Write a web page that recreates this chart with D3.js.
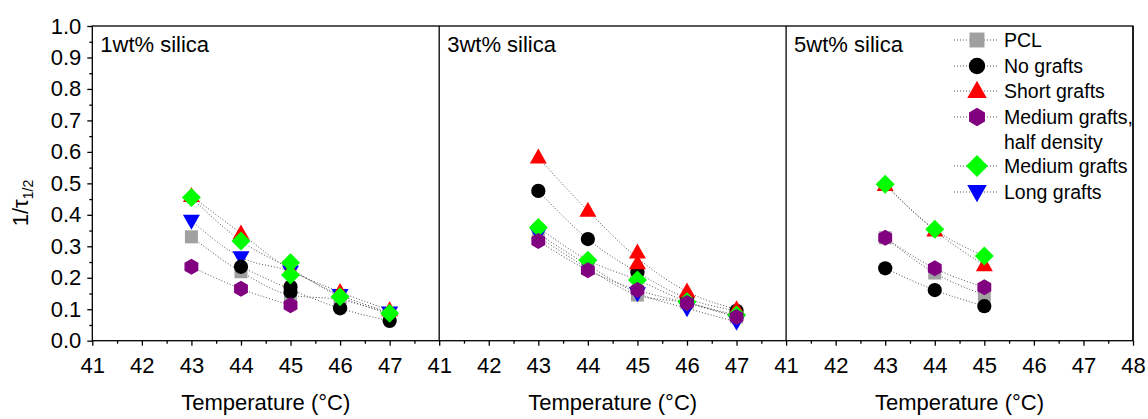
<!DOCTYPE html>
<meta charset="utf-8">
<script src="https://d3js.org/d3.v7.min.js"></script>
<style>
  body { margin: 0; background: #fff; }
  text { font-family: "Liberation Sans", Arial, sans-serif; fill: #000; }
</style>
<div id="chart"></div>
<script>

// ---- data ----
var panelNames = ["1wt% silica", "3wt% silica", "5wt% silica"];
var seriesNames = ["PCL", "No grafts", "Short grafts", "Medium grafts,", "Medium grafts", "Long grafts"];
var xTicks = [41, 42, 43, 44, 45, 46, 47, 48];
var yTicks = [0, 0.1, 0.2, 0.3, 0.4, 0.5, 0.6, 0.7, 0.8, 0.9, 1.0];

// 1 wt% silica
var pcl1    = [[43,0.33],[44,0.219],[45,0.145],[46,0.13],[47,0.085]];
var none1   = [[44,0.235],[45,0.171],[45,0.155],[46,0.103],[47,0.063]];
var short1  = [[43,0.46],[44,0.341],[45,0.225],[46,0.155],[47,0.097]];
var medHalf1= [[43,0.235],[44,0.165],[45,0.113]];
var med1    = [[43,0.455],[44,0.317],[45,0.248],[45,0.209],[46,0.14],[47,0.087]];
var long1   = [[43,0.381],[44,0.265],[45,0.22],[46,0.145],[47,0.09]];

// 3 wt% silica
var pcl3    = [[43,0.33],[44,0.23],[45,0.145],[46,0.12],[47,0.075]];
var none3   = [[43,0.476],[44,0.323],[45,0.217],[46,0.135],[47,0.095]];
var short3  = [[43,0.582],[44,0.413],[45,0.28],[45,0.246],[46,0.156],[47,0.1]];
var medHalf3= [[43,0.317],[44,0.224],[45,0.161],[46,0.12],[47,0.075]];
var med3    = [[43,0.36],[44,0.256],[45,0.193],[46,0.124],[47,0.082]];
var long3   = [[43,0.34],[44,0.24],[45,0.151],[46,0.103],[47,0.06]];

// 5 wt% silica
var pcl5    = [[43,0.327],[44,0.215],[45,0.145]];
var none5   = [[43,0.23],[44,0.161],[45,0.11]];
var short5  = [[43,0.495],[44,0.35],[45,0.24]];
var medHalf5= [[43,0.327],[44,0.23],[45,0.17]];
var med5    = [[43,0.497],[44,0.354],[45,0.269]];
var long5   = [];

var panelData = [
  [pcl1, none1, short1, medHalf1, med1, long1],
  [pcl3, none3, short3, medHalf3, med3, long3],
  [pcl5, none5, short5, medHalf5, med5, long5]
];

(function() {

// ---- styling ----
var colors = ["#a0a0a0", "#000000", "#ff0000", "#800080", "#00ff00", "#0000ff"];
var drawOrder = [0, 5, 1, 2, 4, 3];

var W = 1148, H = 419;
var mLeft = 92.3, mRight = 1133, mTop = 26, mBottom = 340.7;
var panelW = (mRight - mLeft) / 3;

var svg = d3.select("#chart").append("svg")
  .attr("width", W).attr("height", H);

var y = d3.scaleLinear().domain([0, 1]).range([mBottom, mTop]);

// marker shapes
function hexPath(r) {
  var p = d3.path();
  for (var i = 0; i < 6; i++) {
    var a = Math.PI / 6 + i * Math.PI / 3;
    var px = r * Math.cos(a), py = r * Math.sin(a);
    if (i === 0) p.moveTo(px, py); else p.lineTo(px, py);
  }
  p.closePath();
  return p.toString();
}
function markerPath(k, s) {
  s = s || 1;
  if (k === 0) return "M" + (-6.5*s) + "," + (-6.5*s) + "h" + (13*s) + "v" + (13*s) + "h" + (-13*s) + "Z";
  if (k === 1) return d3.symbol(d3.symbolCircle, 160 * s * s)();
  if (k === 2) return "M0," + (-9*s) + "L" + (8.5*s) + "," + (6*s) + "L" + (-8.5*s) + "," + (6*s) + "Z";
  if (k === 3) return hexPath(8 * s);
  if (k === 4) return "M0," + (-9.5*s) + "L" + (9.5*s) + ",0L0," + (9.5*s) + "L" + (-9.5*s) + ",0Z";
  return "M0," + (9*s) + "L" + (8.5*s) + "," + (-6*s) + "L" + (-8.5*s) + "," + (-6*s) + "Z";
}

// mean value per temperature, for the dotted guide lines
function lineData(pts) {
  var m = d3.rollups(pts, function(v) { return d3.mean(v, function(d) { return d[1]; }); }, function(d) { return d[0]; });
  return m.sort(function(a, b) { return a[0] - b[0]; });
}

panelData.forEach(function(series, p) {
  var x = d3.scaleLinear().domain([41, 48]).range([mLeft + p * panelW, mLeft + (p + 1) * panelW]);
  var g = svg.append("g");
  var labelTicks = p < 2 ? xTicks.slice(0, 7) : xTicks;

  // x axis
  g.append("g")
    .attr("transform", "translate(0," + mBottom + ")")
    .call(d3.axisBottom(x).tickValues(labelTicks).tickSize(5).tickFormat(d3.format("d")))
    .call(function(a) {
      a.select(".domain").remove();
      a.selectAll("text").style("font-size", "22px").attr("y", 32).attr("dy", null);
      a.selectAll("line").attr("stroke-width", 1.3);
    });
  g.append("g")
    .attr("transform", "translate(0," + mBottom + ")")
    .call(d3.axisBottom(x).tickValues(d3.range(41.5, 48, 1)).tickSize(3).tickFormat(""))
    .call(function(a) {
      a.select(".domain").remove();
      a.selectAll("line").attr("stroke-width", 1.3);
    });

  // dotted guide lines
  var line = d3.line().curve(d3.curveMonotoneX)
    .x(function(d) { return x(d[0]); })
    .y(function(d) { return y(d[1]); });
  series.forEach(function(pts) {
    if (pts.length < 2) return;
    g.append("path")
      .attr("d", line(lineData(pts)))
      .attr("fill", "none")
      .attr("stroke", "#555")
      .attr("stroke-width", 1)
      .attr("stroke-dasharray", "1,2");
  });

  // markers
  drawOrder.forEach(function(k) {
    g.selectAll(null)
      .data(series[k])
      .enter().append("path")
        .attr("d", markerPath(k))
        .attr("transform", function(d) { return "translate(" + x(d[0]) + "," + y(d[1]) + ")"; })
        .attr("fill", colors[k]);
  });

  // panel label
  g.append("text")
    .attr("x", x(41) + 8).attr("y", 52)
    .style("font-size", "22px")
    .text(panelNames[p]);

  // x title
  g.append("text")
    .attr("x", (x(41) + x(48)) / 2).attr("y", 410)
    .attr("text-anchor", "middle")
    .style("font-size", "22px")
    .text("Temperature (\u00b0C)");

  // panel divider
  svg.append("line")
    .attr("x1", x(48)).attr("x2", x(48))
    .attr("y1", mTop).attr("y2", mBottom)
    .attr("stroke", "#000").attr("stroke-width", 1.3);
});

// y axis
svg.append("g")
  .attr("transform", "translate(" + mLeft + ",0)")
  .call(d3.axisLeft(y).tickValues(yTicks).tickSize(5).tickPadding(6).tickFormat(d3.format(".1f")))
  .call(function(a) {
    a.select(".domain").remove();
    a.selectAll("text").style("font-size", "22px");
    a.selectAll("line").attr("stroke-width", 1.3);
  });
svg.append("g")
  .attr("transform", "translate(" + mLeft + ",0)")
  .call(d3.axisLeft(y).tickValues(d3.range(0.05, 1, 0.1)).tickSize(3).tickFormat(""))
  .call(function(a) {
    a.select(".domain").remove();
    a.selectAll("line").attr("stroke-width", 1.3);
  });

// frame
svg.append("rect")
  .attr("x", mLeft).attr("y", mTop)
  .attr("width", mRight - mLeft).attr("height", mBottom - mTop)
  .attr("fill", "none").attr("stroke", "#000").attr("stroke-width", 1.3);

// y title
var yt = svg.append("text")
  .attr("transform", "translate(28,203) rotate(-90)")
  .attr("text-anchor", "middle")
  .style("font-size", "22px");
yt.append("tspan").text("1/\u03c4");
yt.append("tspan").attr("dy", 5).style("font-size", "14px").text("1/2");

// legend
var legRows = [40, 66, 91, 117, 166, 192];
var leg = svg.append("g");
seriesNames.forEach(function(name, k) {
  var ly = legRows[k];
  leg.append("line")
    .attr("x1", 954).attr("x2", 998).attr("y1", ly).attr("y2", ly)
    .attr("stroke", "#555").attr("stroke-dasharray", "1,2");
  leg.append("path")
    .attr("d", markerPath(k, 1.15))
    .attr("transform", "translate(977," + ly + ")")
    .attr("fill", colors[k]);
  leg.append("text")
    .attr("x", 1004).attr("y", ly + 7)
    .style("font-size", "19.5px")
    .text(name);
});
leg.append("text")
  .attr("x", 1004).attr("y", 149)
  .style("font-size", "19.5px")
  .text("half density");

})();
</script>
